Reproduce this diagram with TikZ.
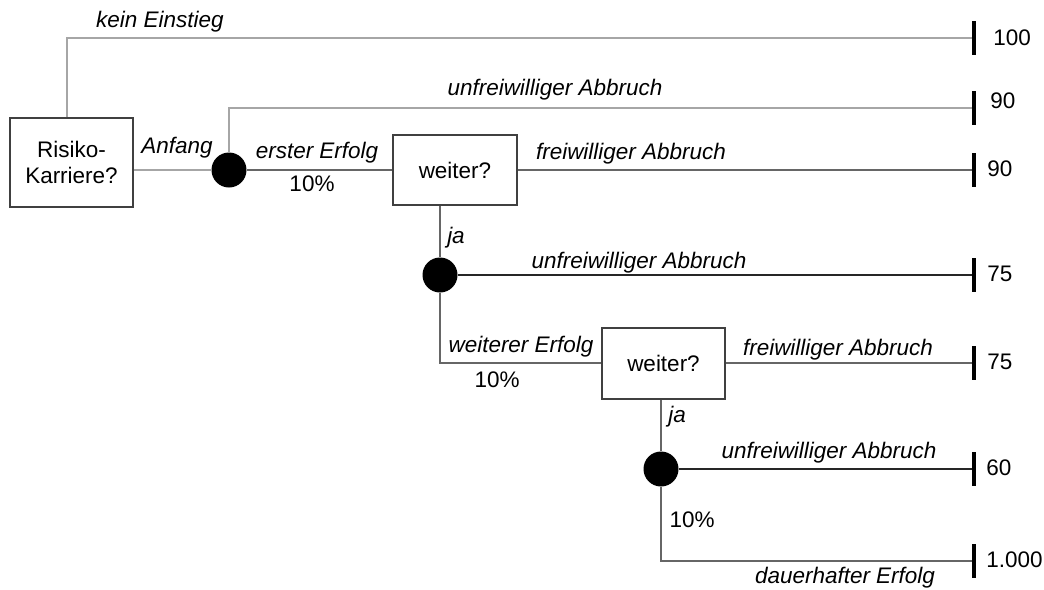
\documentclass[tikz,border=0pt]{standalone}
\usepackage{fontspec}
\setmainfont{Liberation Sans}
\begin{document}
\begin{tikzpicture}[x=0.02cm,y=-0.02cm,
  font=\fontsize{12.8}{15}\selectfont,
  box/.style={draw=black!75, line width=0.6pt, rectangle, inner sep=0pt, align=center},
  chance/.style={circle, fill=black, minimum size=0.7cm, inner sep=0pt},
  ln/.style={draw=black!60, line width=0.8pt},
  lnlight/.style={draw=black!35, line width=0.8pt},
  lndark/.style={draw=black!85, line width=0.8pt},
  endbar/.style={line width=2.4pt, draw=black},
  lbl/.style={font=\fontsize{12.8}{15}\selectfont\itshape, inner sep=0pt, text height=0.72em, text depth=0.21em, yshift=-0.05cm},
  pct/.style={inner sep=0pt, text height=0.72em, text depth=0.21em, yshift=-0.05cm},
  val/.style={anchor=west, inner sep=0pt, text height=0.72em, text depth=0.21em, yshift=-0.05cm}]
\useasboundingbox (0,0) rectangle (1044,589);

% decision and chance nodes
\node[box, minimum width=2.46cm, minimum height=1.78cm] (b1) at (71.5,162.5) {Risiko-\\Karriere?};
\node[box, minimum width=2.48cm, minimum height=1.4cm] (w1) at (455,170) {weiter?};
\node[box, minimum width=2.46cm, minimum height=1.42cm] (w2) at (663.5,363.5) {weiter?};
\node[chance] (n1) at (229,170) {};
\node[chance] (n2) at (440,275) {};
\node[chance] (n3) at (661,469) {};

% end points
\coordinate (e1) at (974,38);
\coordinate (e2) at (974,108);
\coordinate (e3) at (974,170);
\coordinate (e4) at (974,275);
\coordinate (e5) at (974,363);
\coordinate (e6) at (974,469);
\coordinate (e7) at (974,561);
\coordinate (k1) at (67,38);
\coordinate (k2) at (229,108);
\coordinate (k3) at (440,363);
\coordinate (k4) at (661,561);

% connectors
\draw[lnlight] (b1.north -| k1) -- (k1) -- (e1);
\draw[lnlight] (n1) -- (k2) -- (e2);
\draw[lnlight] (n1.west) -- (n1 -| b1.east);
\draw[ln] (n1) -- (w1);
\draw[ln] (w1) -- (e3);
\draw[ln] (w1.south -| n2) -- (n2);
\draw[lndark] (n2) -- (e4);
\draw[ln] (n2) -- (k3) -- (w2.west |- k3);
\draw[ln] (w2.east |- e5) -- (e5);
\draw[ln] (w2.south -| n3) -- (n3);
\draw[lndark] (n3) -- (e6);
\draw[ln] (n3) -- (k4) -- (e7);

% end bars
\foreach \e in {e1,e2,e3,e4,e5,e6,e7}
  \draw[endbar] (\e) ++(0,-17) -- ++(0,34);

% labels
\node[lbl] (l1) at (160,21) {kein Einstieg};
\node[lbl] (l2) at (555,89) {unfreiwilliger Abbruch};
\node[lbl] (l3) at (177,147) {Anfang};
\node[lbl] (l4) at (317,152) {erster Erfolg};
\node[pct] (p1) at (312,185) {10\%};
\node[lbl] (l5) at (631,153) {freiwilliger Abbruch};
\node[lbl] (l6) at (456,237) {ja};
\node[lbl] (l7) at (639,262) {unfreiwilliger Abbruch};
\node[lbl] (l8) at (521,346) {weiterer Erfolg};
\node[pct] (p2) at (497,381) {10\%};
\node[lbl] (l9) at (838,349) {freiwilliger Abbruch};
\node[lbl] (l10) at (677,416) {ja};
\node[lbl] (l11) at (829,452) {unfreiwilliger Abbruch};
\node[pct] (p3) at (692,521) {10\%};
\node[lbl] (l12) at (845,577) {dauerhafter Erfolg};

% values
\node[val] (v1) at (993,39) {100};
\node[val] (v2) at (990,102) {90};
\node[val] (v3) at (987,170) {90};
\node[val] (v4) at (987,275) {75};
\node[val] (v5) at (987,363) {75};
\node[val] (v6) at (986,469) {60};
\node[val] (v7) at (986,561) {1.000};
\end{tikzpicture}
\end{document}
